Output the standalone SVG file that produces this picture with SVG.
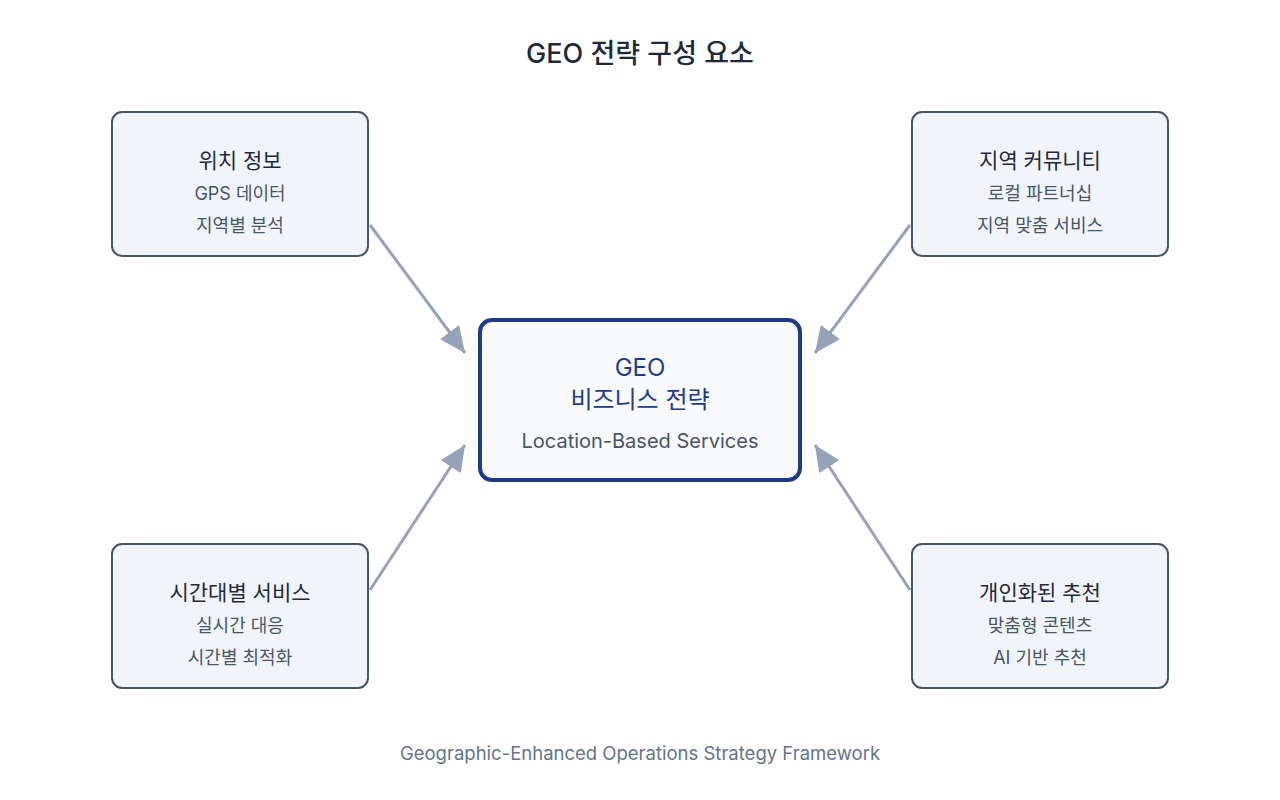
<svg xmlns="http://www.w3.org/2000/svg" width="1280" height="800" viewBox="0 0 1280 800">
<defs>
<marker id="ah" markerUnits="userSpaceOnUse" markerWidth="28" markerHeight="24" refX="26" refY="12" orient="auto">
<path d="M0,0 L26,12 L0,24 Z" fill="#94a3b8"/>
</marker>
<style>
text{font-family:Inter,"Noto Sans CJK KR",sans-serif;text-anchor:middle}
.box{fill:#f1f5f9;stroke:#475569;stroke-width:2}
.t{font-size:21px;fill:#1e293b}
.s{font-size:18px;fill:#475569}
.c{stroke:#94a3b8;stroke-width:3;fill:none;marker-end:url(#ah)}
</style>
</defs>
<rect width="1280" height="800" fill="#ffffff"/>
<text x="640" y="63" font-size="27" font-weight="500" fill="#1e293b">GEO 전략 구성 요소</text>
<g id="connectors">
<line class="c" x1="370" y1="225" x2="465" y2="353"/>
<line class="c" x1="910" y1="225" x2="815" y2="353"/>
<line class="c" x1="370" y1="590" x2="465" y2="445"/>
<line class="c" x1="910" y1="590" x2="815" y2="445"/>
</g>
<g id="center">
<rect x="480" y="320" width="320" height="160" rx="12" fill="#f8fafc" stroke="#1e3a8a" stroke-width="4"/>
<text x="640" y="376" font-size="24" fill="#1e3a8a">GEO</text>
<text x="640" y="408" font-size="24" fill="#1e3a8a">비즈니스 전략</text>
<text x="640" y="448" font-size="20" fill="#475569">Location-Based Services</text>
</g>
<g id="location">
<rect class="box" x="112" y="112" width="256" height="144" rx="10"/>
<text class="t" x="240" y="168">위치 정보</text>
<text class="s" x="240" y="200">GPS 데이터</text>
<text class="s" x="240" y="232">지역별 분석</text>
</g>
<g id="community">
<rect class="box" x="912" y="112" width="256" height="144" rx="10"/>
<text class="t" x="1040" y="168">지역 커뮤니티</text>
<text class="s" x="1040" y="200">로컬 파트너십</text>
<text class="s" x="1040" y="232">지역 맞춤 서비스</text>
</g>
<g id="time">
<rect class="box" x="112" y="544" width="256" height="144" rx="10"/>
<text class="t" x="240" y="600">시간대별 서비스</text>
<text class="s" x="240" y="632">실시간 대응</text>
<text class="s" x="240" y="664">시간별 최적화</text>
</g>
<g id="personal">
<rect class="box" x="912" y="544" width="256" height="144" rx="10"/>
<text class="t" x="1040" y="600">개인화된 추천</text>
<text class="s" x="1040" y="632">맞춤형 콘텐츠</text>
<text class="s" x="1040" y="664">AI 기반 추천</text>
</g>
<text x="640" y="760" font-size="18.5" fill="#64748b">Geographic-Enhanced Operations Strategy Framework</text>
</svg>
